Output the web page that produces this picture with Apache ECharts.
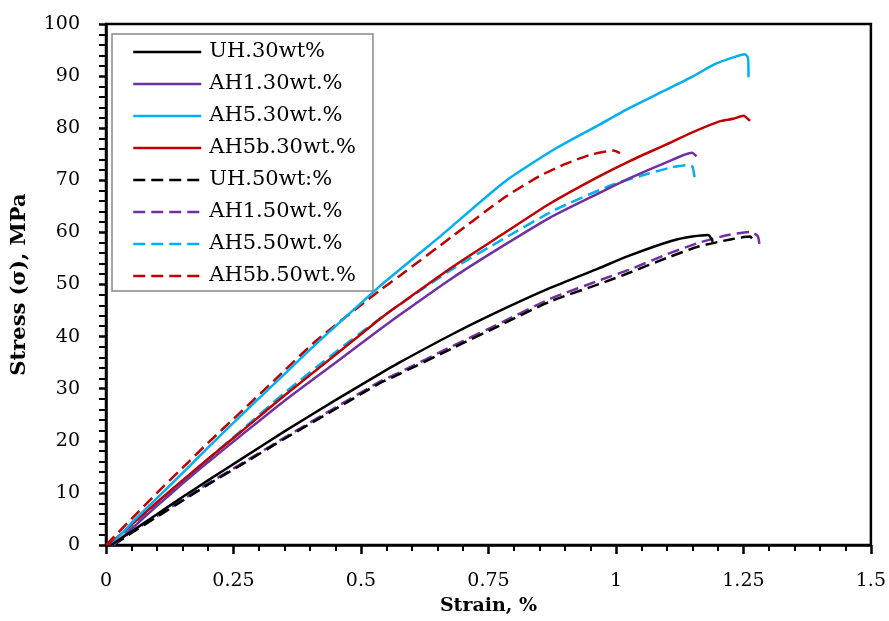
<!DOCTYPE html>
<html>
<head>
<meta charset="utf-8">
<title>Stress-strain</title>
<script src="https://cdn.jsdelivr.net/npm/echarts@6.0.0/dist/echarts.min.js"></script>
<style>
  html, body { margin: 0; padding: 0; background: #fff; }
  #chart { width: 889px; height: 621px; }
</style>
</head>
<body>
<div id="chart"></div>
<script>
// axis ticks
var xTicks = [0, 0.25, 0.5, 0.75, 1, 1.25, 1.5]
var yTicks = [0, 10, 20, 30, 40, 50, 60, 70, 80, 90, 100]

// series names, in legend order
var names = ['UH.30wt%', 'AH1.30wt.%', 'AH5.30wt.%', 'AH5b.30wt.%',
  'UH.50wt:%', 'AH1.50wt.%', 'AH5.50wt.%', 'AH5b.50wt.%']
var colors = ['#000000', '#7030A0', '#00B0F0', '#C00000',
  '#000000', '#7030A0', '#00B0F0', '#C00000']

// [strain %, stress MPa]
var uh30 = [[0.01, 0], [0.05, 2.6], [0.1, 5.9], [0.15, 9.2], [0.2, 12.4], [0.262, 16.3],
  [0.35, 21.8], [0.45, 27.8], [0.536, 32.8], [0.575, 35.0], [0.68, 40.5], [0.78, 45.3],
  [0.87, 49.3], [0.966, 53.1], [1.025, 55.5], [1.11, 58.4], [1.15, 59.2], [1.181, 59.5],
  [1.19, 58.2]]
var ah1_30 = [[0.015, 0], [0.05, 3.1], [0.1, 7.5], [0.15, 11.8], [0.2, 15.9], [0.262, 20.8],
  [0.35, 27.7], [0.45, 35.0], [0.536, 41.3], [0.575, 44.1], [0.68, 51.3], [0.78, 57.5],
  [0.87, 62.8], [0.966, 67.5], [1.025, 70.3], [1.064, 72.0], [1.1, 73.5], [1.149, 75.3],
  [1.158, 74.6]]
var ah5_30 = [[0.01, 0], [0.05, 4.2], [0.1, 9.0], [0.15, 13.8], [0.2, 18.7], [0.262, 24.6],
  [0.35, 32.8], [0.412, 38.6], [0.536, 49.6], [0.575, 52.8], [0.65, 58.8], [0.78, 69.6],
  [0.88, 76.0], [0.966, 80.6], [1.025, 83.8], [1.097, 87.3], [1.15, 89.9], [1.194, 92.3],
  [1.23, 93.6], [1.253, 94.2], [1.259, 93.5], [1.26, 89.8]]
var ah5b_30 = [[0.005, 0], [0.05, 3.9], [0.1, 8.2], [0.15, 12.4], [0.2, 16.5], [0.262, 21.5],
  [0.35, 28.7], [0.45, 36.5], [0.536, 43.3], [0.575, 46.1], [0.68, 53.4], [0.78, 59.8],
  [0.87, 65.5], [0.966, 70.7], [1.025, 73.6], [1.097, 76.8], [1.15, 79.2], [1.203, 81.3],
  [1.23, 81.8], [1.25, 82.4], [1.263, 81.4]]
var uh50 = [[0.015, 0], [0.05, 2.3], [0.1, 5.4], [0.15, 8.5], [0.2, 11.6], [0.262, 15.2],
  [0.35, 20.4], [0.45, 26.1], [0.536, 31.0], [0.575, 32.8], [0.68, 37.8], [0.78, 42.5],
  [0.87, 46.7], [0.979, 50.5], [1.025, 52.2], [1.1, 55.1], [1.162, 57.3], [1.227, 58.7],
  [1.263, 59.2], [1.272, 57.9]]
var ah1_50 = [[0.01, 0], [0.05, 2.5], [0.1, 5.6], [0.15, 8.7], [0.2, 11.8], [0.262, 15.4],
  [0.35, 20.6], [0.45, 26.4], [0.536, 31.3], [0.575, 33.1], [0.68, 38.2], [0.78, 42.9],
  [0.87, 47.2], [0.979, 51.2], [1.025, 52.8], [1.1, 55.8], [1.162, 58.0], [1.22, 59.5],
  [1.263, 60.1], [1.278, 59.3], [1.282, 57.3]]
var ah5_50 = [[0.01, 0], [0.05, 3.6], [0.1, 7.9], [0.15, 12.2], [0.2, 16.5], [0.262, 21.7],
  [0.35, 29.2], [0.45, 37.0], [0.536, 43.4], [0.575, 46.1], [0.68, 53.0], [0.78, 58.8],
  [0.88, 64.3], [0.992, 69.1], [1.064, 71.3], [1.11, 72.5], [1.139, 72.9], [1.15, 72.6],
  [1.155, 70.0]]
var ah5b_50 = [[0, 0], [0.05, 5.0], [0.1, 10.0], [0.15, 14.8], [0.2, 19.6], [0.262, 25.3],
  [0.33, 31.6], [0.412, 39.2], [0.536, 48.8], [0.575, 51.6], [0.68, 59.3], [0.78, 66.6],
  [0.85, 70.8], [0.9, 73.1], [0.95, 74.9], [0.995, 75.7], [1.008, 75.2]]

var curves = [uh30, ah1_30, ah5_30, ah5b_30, uh50, ah1_50, ah5_50, ah5b_50]

var serif = 'DejaVu Serif'
var chart = echarts.init(document.getElementById('chart'))

var series = curves.map(function (d, i) {
  return {
    name: names[i],
    type: 'line',
    data: d,
    symbol: 'none',
    showSymbol: false,
    smooth: 0.2,
    color: colors[i],
    lineStyle: {
      width: 2.5,
      color: colors[i],
      type: i < 4 ? 'solid' : [12, 6]
    },
    z: 10 - i
  }
})

chart.setOption({
  animation: false,
  backgroundColor: '#fff',
  grid: {
    left: 106, right: 16, top: 24, bottom: 76,
    show: true, borderColor: '#000', borderWidth: 2.5
  },
  legend: {
    orient: 'vertical',
    left: 112, top: 34,
    padding: [7, 17, 4, 20],
    itemWidth: 68, itemHeight: 14, itemGap: 10,
    backgroundColor: '#fff',
    borderColor: '#888', borderWidth: 1.5,
    data: names,
    itemStyle: { opacity: 0 },
    lineStyle: { width: 2.5 },
    textStyle: { fontFamily: serif, fontSize: 21, color: '#000', lineHeight: 22, padding: [0, 0, 0, 3] }
  },
  xAxis: {
    type: 'value',
    min: xTicks[0], max: xTicks[xTicks.length - 1], interval: 0.25,
    name: 'Strain, %',
    nameLocation: 'middle', nameGap: 52,
    nameTextStyle: { fontFamily: serif, fontSize: 19, fontWeight: 'bold', color: '#000' },
    axisLine: { lineStyle: { color: '#000', width: 2.5 } },
    axisTick: { length: 9, lineStyle: { color: '#000', width: 2.5 } },
    minorTick: { show: true, splitNumber: 5, length: 6, lineStyle: { color: '#000', width: 2 } },
    splitLine: { show: false },
    axisLabel: {
      margin: 27, fontFamily: serif, fontSize: 19, color: '#000',
      formatter: function (v) { return String(v) }
    }
  },
  yAxis: {
    type: 'value',
    min: yTicks[0], max: yTicks[yTicks.length - 1], interval: 10,
    name: 'Stress (σ), MPa',
    nameLocation: 'middle', nameGap: 76, nameRotate: 90,
    nameTextStyle: { fontFamily: serif, fontSize: 21, fontWeight: 'bold', color: '#000' },
    axisLine: { lineStyle: { color: '#000', width: 2.5 } },
    axisTick: { length: 7, lineStyle: { color: '#000', width: 2.5 } },
    minorTick: { show: true, splitNumber: 5, length: 7, lineStyle: { color: '#000', width: 2 } },
    splitLine: { show: false },
    axisLabel: { margin: 26, fontFamily: serif, fontSize: 19, color: '#000' }
  },
  series: series
})
</script>
</body>
</html>
